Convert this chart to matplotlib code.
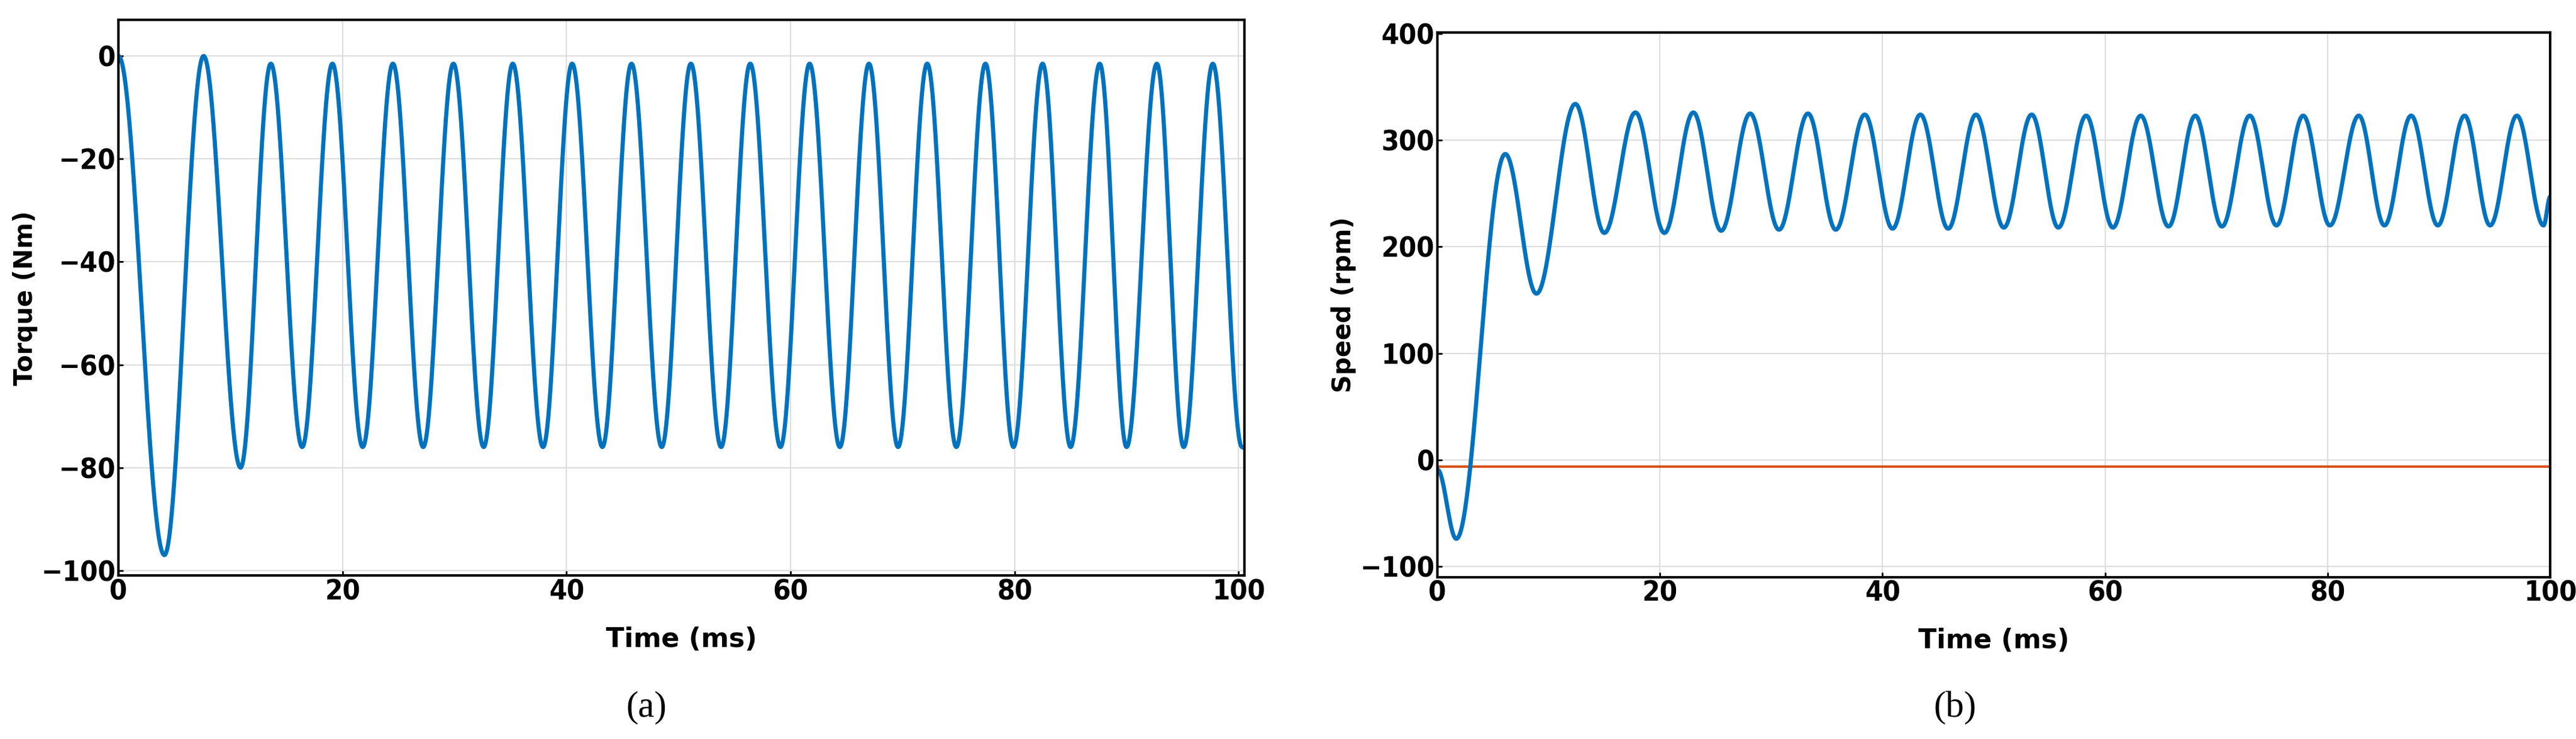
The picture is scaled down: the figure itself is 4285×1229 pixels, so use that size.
import numpy as np
import matplotlib
matplotlib.use("Agg")
import matplotlib.pyplot as plt

# Torque extrema (time ms, value Nm)
torque_t = [0, 4.1, 7.6, 10.9, 13.6, 16.4, 19.1, 21.8, 24.5, 27.2, 29.9, 32.6, 35.2, 37.9, 40.5, 43.2,
            45.8, 48.5, 51.1, 53.8, 56.4, 59.1, 61.7, 64.4, 67.0, 69.6, 72.2, 74.8, 77.4, 79.9, 82.5,
            85.0, 87.6, 90.0, 92.7, 95.1, 97.7, 100.3]
torque_v = [0, -97, 0, -80, -1.5, -76, -1.5, -76, -1.5, -76, -1.5, -76, -1.5, -76, -1.5, -76,
            -1.5, -76, -1.5, -76, -1.5, -76, -1.5, -76, -1.5, -76, -1.5, -76, -1.5, -76, -1.5,
            -76, -1.5, -76, -1.5, -76, -1.5, -76]

# Speed extrema (time ms, value rpm)
speed_t = [0, 1.7, 6.1, 8.9, 12.4, 15.0, 17.8, 20.4, 23.0, 25.5, 28.1, 30.7, 33.3, 35.8, 38.4, 40.9,
           43.4, 45.9, 48.4, 50.9, 53.4, 55.8, 58.3, 60.7, 63.2, 65.7, 68.1, 70.5, 73.0, 75.4, 77.8,
           80.2, 82.8, 85.1, 87.5, 89.9, 92.3, 94.6, 97.0, 99.4, 100.0]
speed_v = [-9, -74, 287, 156, 334, 213, 326, 213, 326, 215, 325, 216, 325, 216, 324, 217,
           324, 217, 324, 218, 324, 218, 323, 218, 323, 219, 323, 219, 323, 220, 323,
           220, 323, 220, 323, 220, 323, 220, 323, 220, 247]
reference_speed = -6


def smooth(ts, vs, n=60):
    xs, ys = [], []
    for i in range(len(ts) - 1):
        s = np.linspace(0, 1, n, endpoint=False)
        w = (1 - np.cos(np.pi * s)) / 2
        xs.append(ts[i] + (ts[i + 1] - ts[i]) * s)
        ys.append(vs[i] + (vs[i + 1] - vs[i]) * w)
    xs.append([ts[-1]]); ys.append([vs[-1]])
    return np.concatenate(xs), np.concatenate(ys)


blue = "#0072BD"
fig = plt.figure(figsize=(42.85, 12.29), dpi=100)
axa = fig.add_axes([0.046, 0.221, 0.437, 0.752])
axb = fig.add_axes([0.558, 0.219, 0.432, 0.737])

x, y = smooth(torque_t, torque_v)
axa.plot(x, y, color=blue, lw=5)
axa.set_xlim(0, 100.5)
axa.set_ylim(-101, 7)
axa.set_yticks([0, -20, -40, -60, -80, -100])
axa.set_ylabel("Torque (Nm)", fontsize=30, fontweight="bold")

x, y = smooth(speed_t, speed_v)
axb.axhline(reference_speed, color="#D95319", lw=3)
axb.plot(x, y, color=blue, lw=5)
axb.set_xlim(0.3, 100)
axb.set_ylim(-110, 401)
axb.set_yticks([-100, 0, 100, 200, 300, 400])
axb.set_ylabel("Speed (rpm)", fontsize=30, fontweight="bold")

for ax in (axa, axb):
    ax.set_xticks([0, 20, 40, 60, 80, 100])
    ax.grid(True, color="#dddddd", lw=1.5)
    ax.set_axisbelow(True)
    ax.tick_params(labelsize=34, direction="in", length=6, width=2)
    for t in ax.get_xticklabels() + ax.get_yticklabels():
        t.set_fontstretch("condensed")
        t.set_fontweight("semibold")
    ax.set_xlabel("Time (ms)", fontsize=32, fontweight="bold", labelpad=25)
    for s in ax.spines.values():
        s.set_linewidth(3)

fig.text(0.251, 0.03, "(a)", fontsize=44, family="Liberation Serif", ha="center")
fig.text(0.759, 0.03, "(b)", fontsize=44, family="Liberation Serif", ha="center")
fig.savefig("out.png", dpi=100, facecolor="white")
